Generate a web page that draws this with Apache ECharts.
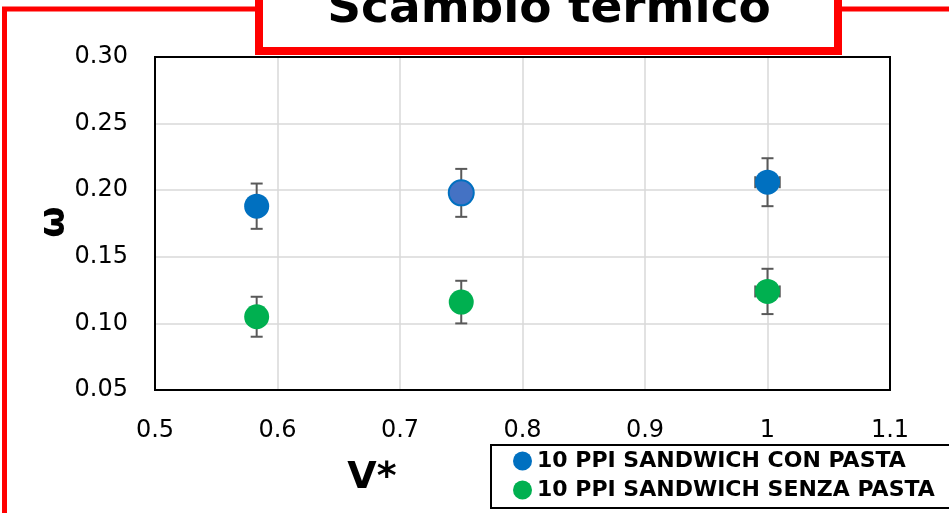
<!DOCTYPE html>
<html>
<head>
<meta charset="utf-8">
<script src="https://cdn.jsdelivr.net/npm/echarts@6/dist/echarts.min.js"></script>
<style>html,body{margin:0;padding:0;background:#fff}#c{width:949px;height:513px}</style>
</head>
<body>
<div id="c"></div>
<script>
// ---- data ----
var titleText = 'Scambio termico';
var xAxisName = 'V*';
var yAxisName = 'ω';
var seriesNames = ['10 PPI SANDWICH CON PASTA', '10 PPI SANDWICH SENZA PASTA'];
var xCon = [0.583, 0.75, 1.0];
var yCon = [0.188, 0.198, 0.206];
var yErrCon = [0.017, 0.018, 0.018];
var xErrCon = [0, 0, 0.01];
var xSenza = [0.583, 0.75, 1.0];
var ySenza = [0.105, 0.116, 0.124];
var yErrSenza = [0.015, 0.016, 0.017];
var xErrSenza = [0, 0, 0.01];
var xTicks = [0.5, 0.6, 0.7, 0.8, 0.9, 1.0, 1.1];
var yTicks = [0.05, 0.10, 0.15, 0.20, 0.25, 0.30];

var chart = echarts.init(document.getElementById('c'));
var FONT = 'DejaVu Sans';

function errData(xs, ys, ye, xe) {
  return xs.map(function (x, i) { return [x, ys[i], ye[i], xe[i]]; });
}
function renderErr(params, api) {
  var x = api.value(0), y = api.value(1), ye = api.value(2), xe = api.value(3);
  var top = api.coord([x, y + ye]);
  var bot = api.coord([x, y - ye]);
  var cap = 6;
  var st = { stroke: '#595959', lineWidth: 2 };
  var children = [
    { type: 'line', shape: { x1: top[0], y1: top[1], x2: bot[0], y2: bot[1] }, style: st },
    { type: 'line', shape: { x1: top[0] - cap, y1: top[1], x2: top[0] + cap, y2: top[1] }, style: st },
    { type: 'line', shape: { x1: bot[0] - cap, y1: bot[1], x2: bot[0] + cap, y2: bot[1] }, style: st }
  ];
  if (xe > 0) {
    var l = api.coord([x - xe, y]);
    var r = api.coord([x + xe, y]);
    children.push({ type: 'line', shape: { x1: l[0], y1: l[1], x2: r[0], y2: r[1] }, style: st });
    children.push({ type: 'line', shape: { x1: l[0], y1: l[1] - cap, x2: l[0], y2: l[1] + cap }, style: st });
    children.push({ type: 'line', shape: { x1: r[0], y1: r[1] - cap, x2: r[0], y2: r[1] + cap }, style: st });
  }
  return { type: 'group', children: children };
}

var conData = xCon.map(function (x, i) {
  var d = { value: [x, yCon[i]] };
  if (i === 1) d.itemStyle = { color: '#4472C4', borderColor: '#0070C0', borderWidth: 2 };
  return d;
});
var senzaData = xSenza.map(function (x, i) { return [x, ySenza[i]]; });

var option = {
  backgroundColor: '#fff',
  animation: false,
  grid: { left: 155, right: 59, top: 57, bottom: 123 },
  xAxis: {
    type: 'value', min: xTicks[0], max: xTicks[xTicks.length - 1], interval: 0.1,
    axisLine: { show: true, lineStyle: { color: '#000', width: 2 } },
    axisTick: { show: false },
    splitLine: { show: true, lineStyle: { color: '#D9D9D9', width: 1.5 } },
    axisLabel: { color: '#000', fontFamily: FONT, fontSize: 24, margin: 29,
      formatter: function (v) { return String(Math.round(v * 10) / 10); } }
  },
  yAxis: {
    type: 'value', min: yTicks[0], max: yTicks[yTicks.length - 1], interval: 0.05,
    axisLine: { show: true, lineStyle: { color: '#000', width: 2 } },
    axisTick: { show: false },
    splitLine: { show: true, lineStyle: { color: '#D9D9D9', width: 1.5 } },
    axisLabel: { color: '#000', fontFamily: FONT, fontSize: 24, margin: 27,
      formatter: function (v) { return v.toFixed(2); } }
  },
  legend: {
    orient: 'vertical', left: 513, top: 450, padding: 0, itemGap: 7,
    icon: 'circle', itemWidth: 19, itemHeight: 19,
    data: seriesNames,
    textStyle: { color: '#000', fontFamily: FONT, fontWeight: 'bold', fontSize: 22, lineHeight: 22 }
  },
  series: [
    { type: 'custom', name: 'errCon', renderItem: renderErr, data: errData(xCon, yCon, yErrCon, xErrCon), z: 2, silent: true },
    { type: 'custom', name: 'errSenza', renderItem: renderErr, data: errData(xSenza, ySenza, yErrSenza, xErrSenza), z: 2, silent: true },
    { type: 'scatter', name: seriesNames[0], data: conData, symbolSize: 25, itemStyle: { color: '#0070C0', opacity: 1 }, z: 5 },
    { type: 'scatter', name: seriesNames[1], data: senzaData, symbolSize: 25, itemStyle: { color: '#00B050', opacity: 1 }, z: 5 }
  ],
  graphic: [
    { type: 'rect', shape: { x: 155, y: 57, width: 735, height: 333 }, style: { fill: null, stroke: '#000', lineWidth: 2 }, z: 1 },
    { type: 'polyline', shape: { points: [[4.5, 520], [4.5, 9], [260, 9]] }, style: { stroke: '#FF0000', lineWidth: 5, fill: null }, z: 100 },
    { type: 'line', shape: { x1: 838, y1: 9, x2: 960, y2: 9 }, style: { stroke: '#FF0000', lineWidth: 5 }, z: 100 },
    { type: 'rect', shape: { x: 259, y: -20, width: 579, height: 71 }, style: { fill: '#fff', stroke: '#FF0000', lineWidth: 8 }, z: 101 },
    { type: 'text', x: 549, y: 33, z: 102,
      style: { text: titleText, fill: '#000', font: 'bold 47px "' + FONT + '"', textAlign: 'center', textVerticalAlign: 'bottom' } },
    { type: 'rect', shape: { x: 491, y: 445, width: 480, height: 63 }, style: { fill: null, stroke: '#000', lineWidth: 2 }, z: 50 },
    { type: 'text', x: 372, y: 497, z: 102,
      style: { text: xAxisName, fill: '#000', font: 'bold 38px "' + FONT + '"', textAlign: 'center', textVerticalAlign: 'bottom' } },
    { type: 'text', x: 55, y: 222, rotation: Math.PI / 2, z: 102,
      style: { text: yAxisName, fill: '#000', font: 'bold 36px "' + FONT + '"', textAlign: 'center', textVerticalAlign: 'middle' } }
  ]
};
chart.setOption(option);
</script>
</body>
</html>
